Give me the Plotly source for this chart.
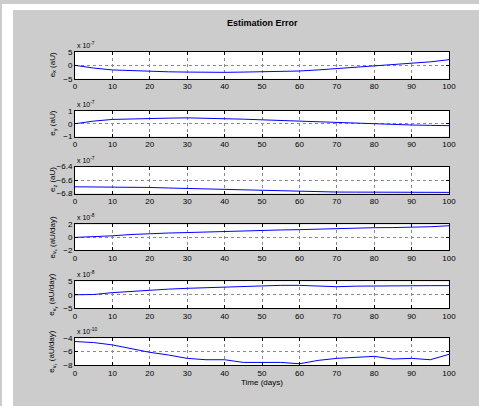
import plotly.graph_objects as go
from plotly.subplots import make_subplots

days = [0, 5, 10, 15, 20, 25, 30, 35, 40, 45, 50, 55, 60, 65, 70, 75, 80, 85, 90, 95, 100]

e_x = [0.0, -1.0, -1.7, -2.0, -2.2, -2.4, -2.5, -2.6, -2.6, -2.5, -2.4, -2.3, -2.1, -1.7, -1.2, -0.8, -0.3, 0.1, 0.6, 1.3, 2.1]
e_y = [0.0, 0.2, 0.33, 0.38, 0.4, 0.43, 0.45, 0.43, 0.4, 0.35, 0.3, 0.25, 0.2, 0.12, 0.05, 0.0, -0.05, -0.08, -0.1, -0.13, -0.15]
e_z = [-6.700, -6.700, -6.702, -6.705, -6.710, -6.718, -6.725, -6.732, -6.740, -6.748, -6.755, -6.765, -6.772, -6.776, -6.778, -6.779, -6.780, -6.781, -6.782, -6.782, -6.783]
e_vx = [0.0, 0.1, 0.25, 0.45, 0.6, 0.68, 0.75, 0.85, 0.97, 1.05, 1.1, 1.15, 1.2, 1.3, 1.4, 1.45, 1.5, 1.52, 1.55, 1.65, 1.8]
e_vy = [0.0, 0.1, 0.8, 1.3, 1.8, 2.1, 2.4, 2.6, 2.8, 3.1, 3.4, 3.5, 3.5, 3.3, 3.0, 3.2, 3.3, 3.35, 3.4, 3.4, 3.4]
e_vz = [-4.5, -4.65, -5.0, -5.6, -6.1, -6.5, -7.0, -7.2, -7.2, -7.6, -7.6, -7.6, -7.8, -7.3, -7.0, -6.8, -6.7, -7.1, -7.0, -7.2, -6.4]

series = [e_x, e_y, e_z, e_vx, e_vy, e_vz]
y_labels = ["e<sub>x</sub> (aU)", "e<sub>y</sub> (aU)", "e<sub>z</sub> (aU)",
            "e<sub>v<sub>x</sub></sub> (aU/day)", "e<sub>v<sub>y</sub></sub> (aU/day)",
            "e<sub>v<sub>z</sub></sub> (aU/day)"]
exponents = ["-7", "-7", "-7", "-8", "-8", "-10"]
y_ticks = [[-5, 0, 5], [-1, 0, 1], [-6.8, -6.6, -6.4], [-2, 0, 2], [-5, 0, 5], [-8, -6, -4]]
x_ticks = [0, 10, 20, 30, 40, 50, 60, 70, 80, 90, 100]

# reference frame (pixels) used for fractional layout
RW, RH = 479, 406
tops = [48, 107, 163, 221, 278, 335]
bottoms = [75, 133, 190, 247, 305, 362]
X0, X1 = 73, 447
# rendered figure size
W, H = 488, 414

fig = make_subplots(rows=6, cols=1)
font_family = "Liberation Sans, Arial, sans-serif"
for i, s in enumerate(series):
    r = i + 1
    fig.add_trace(go.Scatter(x=days, y=s, mode="lines", line=dict(color="#0000ff", width=1),
                             showlegend=False), row=r, col=1)
    xa = "xaxis" if r == 1 else f"xaxis{r}"
    ya = "yaxis" if r == 1 else f"yaxis{r}"
    fig.layout[xa].update(domain=[X0 / RW, X1 / RW], range=[0, 100], tickvals=x_ticks,
                          ticks="inside", ticklen=3, tickcolor="black", showline=True,
                          linecolor="black", linewidth=1, mirror="ticks", showgrid=True,
                          gridcolor="#8a8a8a", griddash="dot", gridwidth=1, zeroline=False,
                          tickfont=dict(size=8, color="black", family=font_family))
    yt = y_ticks[i]
    fig.layout[ya].update(domain=[1 - bottoms[i] / RH, 1 - tops[i] / RH], range=[yt[0], yt[-1]],
                          tickvals=yt, ticks="inside", ticklen=3, tickcolor="black",
                          showline=True, linecolor="black", linewidth=1, mirror="ticks",
                          showgrid=True, gridcolor="#8a8a8a", griddash="dot", gridwidth=1,
                          zeroline=False,
                          tickfont=dict(size=8, color="black", family=font_family))
    fig.add_annotation(xref="paper", yref="paper", x=X0 / RW, y=1 - (tops[i] - 1) / RH,
                       xanchor="left", yanchor="bottom", showarrow=False,
                       text=f"x 10<sup>{exponents[i]}</sup>",
                       font=dict(size=7, color="black", family=font_family))
    fig.add_annotation(xref="paper", yref="paper", x=51 / RW,
                       y=1 - ((tops[i] + bottoms[i]) / 2) / RH,
                       xanchor="center", yanchor="middle", textangle=-90, showarrow=False,
                       text=y_labels[i], font=dict(size=8, color="black", family=font_family))

fig.add_annotation(xref="paper", yref="paper", x=260 / RW, y=1 - 19 / RH, xanchor="center",
                   yanchor="middle", showarrow=False, text="<b>Estimation Error</b>",
                   font=dict(size=9, color="black", family=font_family))
fig.add_annotation(xref="paper", yref="paper", x=260 / RW, y=1 - 379 / RH, xanchor="center",
                   yanchor="middle", showarrow=False, text="Time (days)",
                   font=dict(size=8, color="black", family=font_family))

fig.add_shape(type="rect", xref="paper", yref="paper", x0=0, x1=11 / RW, y0=0, y1=1,
              fillcolor="white", line=dict(width=0), layer="below")
fig.add_shape(type="rect", xref="paper", yref="paper", x0=0, x1=1, y0=1 - 6 / RH, y1=1,
              fillcolor="white", line=dict(width=0), layer="below")

fig.update_layout(width=W, height=H, margin=dict(l=0, r=0, t=0, b=0),
                  paper_bgcolor="#cccccc", plot_bgcolor="white",
                  font=dict(family=font_family, color="black"))

fig.write_html(
    "out.html",
    config={"displayModeBar": False},
    post_script=("document.documentElement.style.margin='0';"
                 "document.documentElement.style.padding='0';"
                 "document.documentElement.style.overflow='hidden';"
                 "document.documentElement.style.background='#cccccc';"
                 "document.body.style.margin='0';document.body.style.padding='0';"
                 "document.body.style.overflow='hidden';"
                 "document.body.style.background='#cccccc';"),
)
